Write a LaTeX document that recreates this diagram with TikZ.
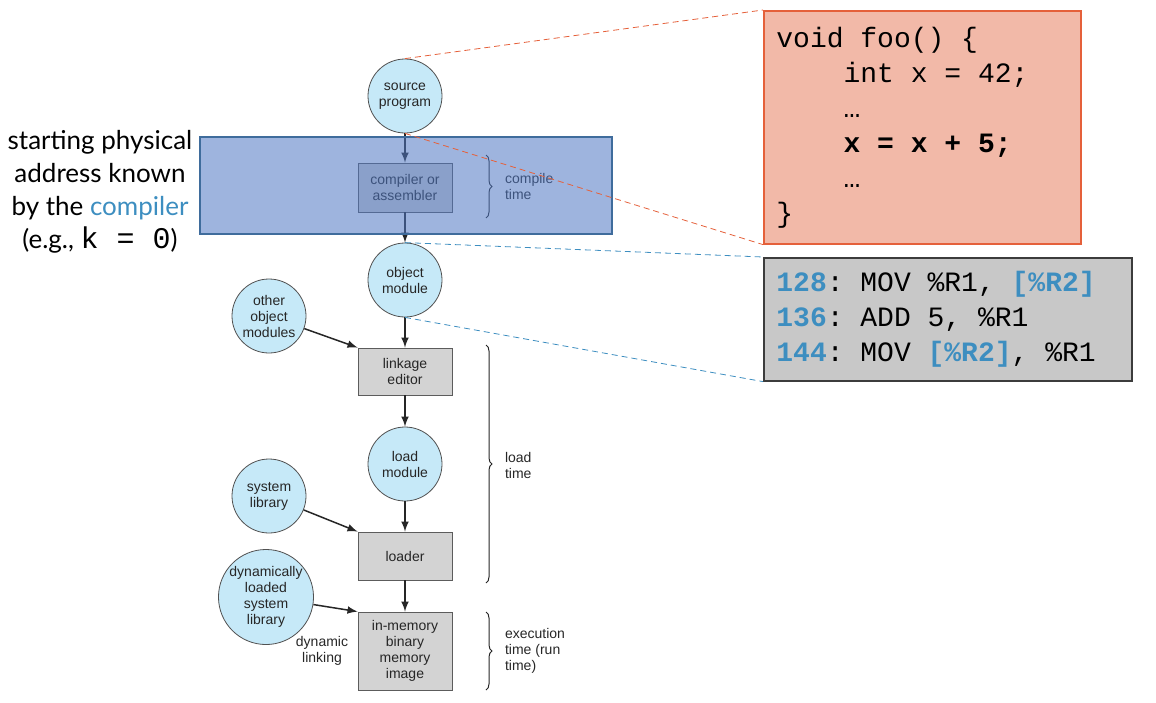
\documentclass[tikz,border=0pt]{standalone}
\usepackage{fontspec}
\setmainfont{Liberation Sans}
\setmonofont{Liberation Mono}[WordSpace={1,0,0}]
\newfontfamily\slidefont{Lato}
\usetikzlibrary{calc,decorations.pathreplacing}

\definecolor{circfill}{HTML}{C6E9F8}
\definecolor{boxfill}{HTML}{D3D3D3}
\definecolor{figtext}{HTML}{262626}
\definecolor{hlblue}{HTML}{4F77C3}
\definecolor{hlborder}{HTML}{3F6C9C}
\definecolor{codered}{HTML}{F2B9A8}
\definecolor{codeborder}{HTML}{E5603A}
\definecolor{asmgray}{HTML}{C8C8C8}
\definecolor{keyblue}{HTML}{3D8EC0}

\begin{document}
\begin{tikzpicture}[x=0.5pt, y=-0.5pt,
  module/.style={circle, draw=figtext!80, fill=circfill, minimum size=37pt, inner sep=0pt,
    align=center, text=figtext, font=\fontsize{7}{8}\selectfont},
  stage/.style={rectangle, draw=figtext!75, fill=boxfill, minimum width=47pt, minimum height=24pt,
    inner sep=0pt, align=center, text=figtext, font=\fontsize{7}{8}\selectfont},
  flow/.style={-latex, line width=0.75pt, figtext},
  span/.style={decorate, decoration={brace, amplitude=3pt}, line width=0.5pt, figtext},
  note/.style={align=left, anchor=west, text=figtext, font=\fontsize{7}{8}\selectfont},
  codebox/.style={rectangle, anchor=north west, line width=0.8pt, inner sep=0pt},
  codetext/.style={anchor=west, align=left, inner xsep=6.5pt, inner ysep=0pt,
    font=\fontsize{14}{17.5}\selectfont\ttfamily},
  zoomline/.style={dash pattern=on 3pt off 2pt, line width=0.4pt}]
\useasboundingbox (0,0) rectangle (1156,702);

% the flow of a program
\node[module] (src) at (405,96) {source\\program};
\node[stage, minimum height=24.5pt] (comp) at (405,187.5) {compiler or\\assembler};
\node[module] (obj) at (405,280) {object\\module};
\node[module] (other) at (269,316) {other\\object\\modules};
\node[stage, minimum height=23.5pt] (link) at (405,371.5) {linkage\\editor};
\node[module] (load) at (405,464) {load\\module};
\node[module] (syslib) at (269,496) {system\\library};
\node[stage] (loader) at (405,556) {loader};
\node[module, minimum size=42pt] (dynlib) at (266,597) {dynamically\\loaded\\system\\library};
\node[stage, minimum height=39pt] (image) at (405,651) {in-memory\\binary\\memory\\image};

\draw[flow] (src) -- (comp);
\draw[flow] (comp) -- (obj);
\draw[flow] (obj) -- (link);
\draw[flow] (link) -- (load);
\draw[flow] (load) -- (loader);
\draw[flow] (loader) -- (image);
\draw[flow] (other) -- (link.north west);
\draw[flow] (syslib) -- (loader.north west);
\draw[flow] (dynlib) -- (image.north west);

\node[note, align=center, anchor=center] (dynlink) at (322,651) {dynamic\\linking};

% times
\draw[span] (486,155) -- (486,218);
\node[note] (ctime) at (498,186) {compile\\time};
\draw[span] (486,345) -- (486,583);
\node[note] (ltime) at (498,465) {load\\time};
\draw[span] (486,612) -- (486,690);
\node[note] (etime) at (498,651) {execution\\time (run\\time)};

% compile time highlight
\draw[hlborder, line width=0.8pt, fill=hlblue, fill opacity=0.55] (200,137) rectangle (612,234);

\node[align=center, font=\slidefont\fontsize{13}{16.5}\selectfont] (known) at (100,192)
  {starting physical\\address known\\by the \textcolor{keyblue}{compiler}\\(e.g., {\ttfamily\fontsize{15}{16.5}\selectfont k = 0})};

% code
\node[codebox, fill=codered, draw=codeborder, minimum width=158.5pt, minimum height=116.5pt] (code) at (763,10) {};
\node[codetext] (codelines) at (code.west)
  {void foo() \{\\
   \hspace*{2.4em}int x = 42;\\
   \hspace*{2.4em}…\\
   \hspace*{2.4em}\textbf{x = x + 5;}\\
   \hspace*{2.4em}…\\
   \}};
\node[codebox, fill=asmgray, draw=figtext!90, minimum width=184pt, minimum height=61.5pt] (asm) at (763,257) {};
\node[codetext] (asmlines) at (asm.west)
  {\textcolor{keyblue}{\textbf{128}}: MOV \%R1, \textcolor{keyblue}{\textbf{[\%R2]}}\\
   \textcolor{keyblue}{\textbf{136}}: ADD 5, \%R1\\
   \textcolor{keyblue}{\textbf{144}}: MOV \textcolor{keyblue}{\textbf{[\%R2]}}, \%R1};

\draw[zoomline, codeborder] (src.north) -- (code.north west);
\draw[zoomline, codeborder] (src.south) -- (code.south west);
\draw[zoomline, keyblue] (obj.north) -- (asm.north west);
\draw[zoomline, keyblue] (obj.south) -- (asm.south west);
\end{tikzpicture}
\end{document}
